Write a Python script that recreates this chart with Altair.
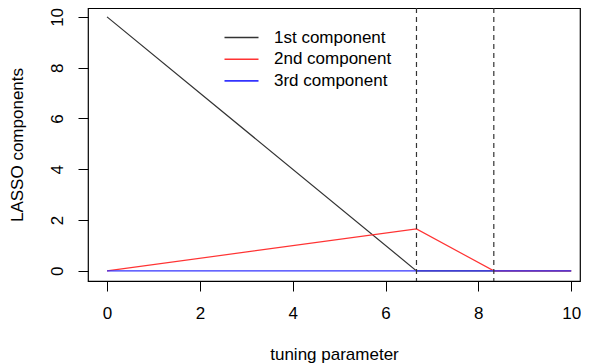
import altair as alt
import pandas as pd

knots = [0, 6.667, 8.333, 10]
first = [10, 0, 0, 0]
second = [0, 1.65, 0, 0]
third = [0, 0, 0, 0]
series_names = ["1st component", "2nd component", "3rd component"]
series_colors = ["#333333", "#ff3333", "#3333ff"]
cutoffs = [6.667, 8.333]
x_ticks = [0, 2, 4, 6, 8, 10]
y_ticks = [0, 2, 4, 6, 8, 10]

rows = []
for name, vals in zip(series_names, [first, second, third]):
    for k, v in zip(knots, vals):
        rows.append({"x": k, "y": v, "series": name})
df = pd.DataFrame(rows)
cut_df = pd.DataFrame({"x": cutoffs})

FONT = "Liberation Sans"
FS = 17
xscale = alt.Scale(domain=[-0.41, 10.19], nice=False, zero=False)
yscale = alt.Scale(domain=[-0.4, 10.35], nice=False, zero=False)

lines = alt.Chart(df).mark_line(strokeWidth=1.2, clip=True).encode(
    x=alt.X("x:Q", scale=xscale,
            axis=alt.Axis(values=x_ticks, title="tuning parameter", domain=False, grid=False,
                          tickSize=10, tickColor="black", labelPadding=14, labelFontSize=FS,
                          labelFont=FONT, labelColor="black", titleFont=FONT, titleFontSize=FS,
                          titleFontWeight="normal", titleColor="black", titlePadding=25)),
    y=alt.Y("y:Q", scale=yscale,
            axis=alt.Axis(values=y_ticks, title="LASSO components", domain=False, grid=False,
                          tickSize=10, tickColor="black", labelPadding=21, labelFontSize=FS,
                          labelFont=FONT, labelColor="black", labelAngle=270, labelAlign="center",
                          labelBaseline="middle", titleFont=FONT, titleFontSize=FS,
                          titleFontWeight="normal", titleColor="black", titlePadding=22)),
    color=alt.Color("series:N", scale=alt.Scale(domain=series_names, range=series_colors),
                    legend=alt.Legend(title=None, orient="none", legendX=144, legendY=20,
                                      symbolType="M-2,0H2", symbolSize=289, symbolStrokeWidth=1.6,
                                      labelFont=FONT, labelFontSize=FS, labelColor="black",
                                      labelOffset=23, rowPadding=3.7, padding=0)),
    order=alt.Order("x:Q"),
)

rules = alt.Chart(cut_df).mark_rule(color="#333333", strokeDash=[5, 4], strokeWidth=1.2).encode(
    x=alt.X("x:Q", scale=xscale)
)

chart = alt.layer(lines, rules).properties(
    width=492, height=273,
    autosize=alt.AutoSizeParams(type="none"),
    padding={"left": 80, "top": 0, "right": 1, "bottom": 84},
).configure_view(stroke="black", strokeWidth=1.2)

chart.save("out.html", embed_options={"renderer": "svg", "actions": False})
